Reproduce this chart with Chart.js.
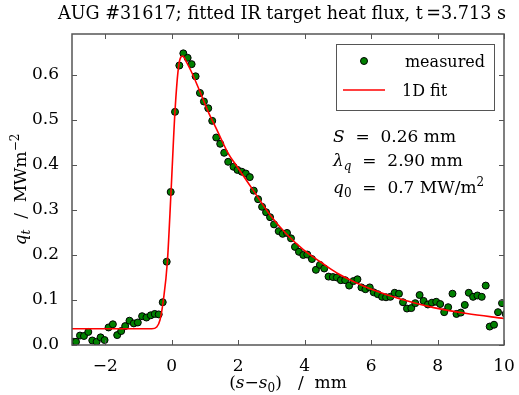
<!DOCTYPE html>
<html>
<head>
<meta charset="utf-8">
<script src="https://cdn.jsdelivr.net/npm/chart.js@4"></script>
<style>
html, body { margin: 0; padding: 0; background: #fff; }
</style>
</head>
<body>
<canvas id="heatFlux" width="519" height="395"></canvas>
<script>
// measured IR heat flux
var measuredX = [-2.96, -2.88, -2.76, -2.64, -2.51, -2.39, -2.26, -2.14, -2.02, -1.90, -1.77, -1.64, -1.52, -1.40, -1.27, -1.14, -1.02, -0.89, -0.76, -0.63, -0.51, -0.39, -0.27, -0.15, -0.03, 0.10, 0.23, 0.35, 0.48, 0.60, 0.72, 0.85, 0.97, 1.10, 1.22, 1.34, 1.46, 1.58, 1.70, 1.86, 1.98, 2.11, 2.23, 2.35, 2.47, 2.60, 2.72, 2.84, 2.96, 3.08, 3.22, 3.34, 3.47, 3.59, 3.71, 3.83, 3.96, 4.08, 4.22, 4.34, 4.46, 4.59, 4.72, 4.85, 4.97, 5.09, 5.22, 5.34, 5.47, 5.59, 5.71, 5.83, 5.96, 6.08, 6.20, 6.33, 6.45, 6.58, 6.71, 6.84, 6.96, 7.08, 7.21, 7.33, 7.46, 7.58, 7.71, 7.83, 7.96, 8.08, 8.20, 8.32, 8.45, 8.57, 8.70, 8.82, 8.94, 9.07, 9.20, 9.33, 9.45, 9.57, 9.70, 9.82, 9.94, 10.05];
var measuredY = [0.007, 0.007, 0.021, 0.020, 0.029, 0.010, 0.007, 0.017, 0.011, 0.039, 0.046, 0.022, 0.031, 0.042, 0.054, 0.048, 0.050, 0.064, 0.061, 0.066, 0.069, 0.068, 0.095, 0.185, 0.340, 0.518, 0.621, 0.648, 0.638, 0.624, 0.597, 0.560, 0.541, 0.526, 0.498, 0.461, 0.447, 0.427, 0.407, 0.396, 0.389, 0.385, 0.381, 0.373, 0.343, 0.324, 0.307, 0.295, 0.284, 0.268, 0.253, 0.247, 0.249, 0.237, 0.218, 0.207, 0.200, 0.201, 0.191, 0.167, 0.178, 0.170, 0.152, 0.151, 0.150, 0.144, 0.144, 0.132, 0.142, 0.146, 0.128, 0.124, 0.128, 0.117, 0.113, 0.107, 0.106, 0.107, 0.116, 0.114, 0.095, 0.081, 0.082, 0.093, 0.111, 0.098, 0.090, 0.094, 0.096, 0.091, 0.073, 0.084, 0.114, 0.069, 0.072, 0.089, 0.116, 0.107, 0.110, 0.107, 0.132, 0.041, 0.045, 0.073, 0.093, 0.069];

// 1D fit curve
var fitX = [-3.0, -0.6, -0.45, -0.35, -0.25, -0.13, -0.02, 0.10, 0.21, 0.33, 0.45, 0.60, 0.85, 1.10, 1.36, 1.70, 1.96, 2.46, 2.96, 3.46, 3.96, 4.47, 4.97, 5.50, 6.07, 6.88, 7.88, 8.88, 10.0];
var fitY = [0.036, 0.036, 0.040, 0.056, 0.100, 0.185, 0.340, 0.520, 0.620, 0.642, 0.628, 0.606, 0.563, 0.518, 0.478, 0.426, 0.397, 0.343, 0.289, 0.246, 0.212, 0.185, 0.160, 0.140, 0.122, 0.102, 0.083, 0.070, 0.059];

var xTicks = [-2, 0, 2, 4, 6, 8, 10];
var xTickLabels = ['\u22122', '0', '2', '4', '6', '8', '10'];
var yTicks = [0, 0.1, 0.2, 0.3, 0.4, 0.5, 0.6];
var yTickLabels = ['0.0', '0.1', '0.2', '0.3', '0.4', '0.5', '0.6'];

var serif = "'DejaVu Serif', serif";
var FS = 17;

function toPoints(xs, ys) {
    return xs.map(function (x, i) { return { x: x, y: ys[i] }; });
}

// draw a run of text pieces, each with own style and baseline shift
function drawRun(ctx, parts, x, y, align) {
    var total = 0;
    parts.forEach(function (p) {
        ctx.font = p.font;
        total += ctx.measureText(p.t).width;
    });
    var cx = align === 'center' ? x - total / 2 : x;
    ctx.textAlign = 'left';
    ctx.textBaseline = 'alphabetic';
    parts.forEach(function (p) {
        ctx.font = p.font;
        ctx.fillText(p.t, cx, y + (p.dy || 0));
        cx += ctx.measureText(p.t).width;
    });
}

var rm = FS + 'px ' + serif;
var it = 'italic ' + FS + 'px ' + serif;
var small = '12px ' + serif;
var smallIt = 'italic 12px ' + serif;
var lgd = '16px ' + serif;

var decorations = {
    id: 'decorations',
    afterDatasetsDraw: function (chart) {
        var ctx = chart.ctx;
        var a = chart.chartArea;
        var xs = chart.scales.x, ys = chart.scales.y;
        ctx.save();
        ctx.strokeStyle = '#555';
        ctx.lineWidth = 1;
        // inward ticks on all four sides
        ctx.beginPath();
        xTicks.forEach(function (v) {
            var px = Math.round(xs.getPixelForValue(v)) + 0.5;
            ctx.moveTo(px, a.bottom); ctx.lineTo(px, a.bottom - 5);
            ctx.moveTo(px, a.top); ctx.lineTo(px, a.top + 5);
        });
        yTicks.forEach(function (v) {
            var py = Math.round(ys.getPixelForValue(v)) + 0.5;
            ctx.moveTo(a.left, py); ctx.lineTo(a.left + 5, py);
            ctx.moveTo(a.right, py); ctx.lineTo(a.right - 5, py);
        });
        ctx.stroke();
        ctx.lineWidth = 1.5;
        ctx.strokeRect(a.left, a.top, a.right - a.left, a.bottom - a.top);
        ctx.restore();
    },
    afterDraw: function (chart) {
        var ctx = chart.ctx;
        var a = chart.chartArea;
        ctx.save();
        ctx.fillStyle = '#000';

        // title
        drawRun(ctx, [{ t: 'AUG #31617; fitted IR target heat flux, t\u2009=3.713 s', font: '17.6px ' + serif }], (a.left + a.right) / 2 - 6, 19, 'center');

        // x axis title
        drawRun(ctx, [
            { t: '(', font: rm }, { t: 's', font: it }, { t: '\u2212', font: rm },
            { t: 's', font: it }, { t: '0', font: small, dy: 4 }, { t: ')', font: rm },
            { t: '   /  mm', font: rm }
        ], (a.left + a.right) / 2, 388, 'center');

        // y axis title
        ctx.save();
        ctx.translate(26, (a.top + a.bottom) / 2);
        ctx.rotate(-Math.PI / 2);
        drawRun(ctx, [
            { t: 'q', font: it }, { t: 't', font: smallIt, dy: 4 },
            { t: '  /  MWm', font: rm }, { t: '\u22122', font: small, dy: -7 }
        ], 0, 0, 'center');
        ctx.restore();

        // legend box
        ctx.strokeStyle = '#555';
        ctx.lineWidth = 1;
        ctx.fillStyle = '#fff';
        ctx.fillRect(336.5, 44.5, 158, 66);
        ctx.strokeRect(336.5, 44.5, 158, 66);
        ctx.fillStyle = '#008000';
        ctx.strokeStyle = '#000';
        ctx.beginPath();
        ctx.arc(364, 61, 3.5, 0, Math.PI * 2);
        ctx.fill();
        ctx.stroke();
        ctx.strokeStyle = '#ff0000';
        ctx.lineWidth = 1.5;
        ctx.beginPath();
        ctx.moveTo(343, 90); ctx.lineTo(385, 90);
        ctx.stroke();
        ctx.fillStyle = '#000';
        ctx.font = lgd;
        ctx.textAlign = 'right';
        ctx.fillText('measured', 485, 67);
        ctx.textAlign = 'left';
        ctx.fillText('1D fit', 402, 96);

        // fit parameters
        drawRun(ctx, [{ t: 'S', font: it }, { t: '  =  0.26 mm', font: rm }], 333, 142);
        drawRun(ctx, [{ t: '\u03bb', font: it }, { t: 'q', font: smallIt, dy: 4 }, { t: '  =  2.90 mm', font: rm }], 333, 166);
        drawRun(ctx, [{ t: 'q', font: it }, { t: '0', font: small, dy: 4 }, { t: '  =  0.7 MW/m', font: rm }, { t: '2', font: small, dy: -7 }], 333, 193);
        ctx.restore();
    }
};

var ctx = document.getElementById('heatFlux').getContext('2d');
var chart = new Chart(ctx, {
    type: 'scatter',
    data: {
        datasets: [{
            label: 'measured',
            data: toPoints(measuredX, measuredY),
            backgroundColor: '#008000',
            borderColor: '#000',
            borderWidth: 1,
            pointRadius: 3.5,
            clip: 0,
            order: 1
        }, {
            label: '1D fit',
            type: 'line',
            data: toPoints(fitX, fitY),
            borderColor: '#ff0000',
            borderWidth: 1.6,
            pointRadius: 0,
            fill: false,
            cubicInterpolationMode: 'monotone',
            clip: 0,
            order: 0
        }]
    },
    options: {
        responsive: false,
        animation: false,
        layout: { padding: { top: 34, right: 15, left: 0, bottom: 0 } },
        plugins: {
            legend: { display: false },
            title: { display: false },
            tooltip: { enabled: false }
        },
        scales: {
            x: {
                type: 'linear',
                min: -3,
                max: 10,
                afterBuildTicks: function (s) { s.ticks = xTicks.map(function (v) { return { value: v }; }); },
                afterFit: function (s) { s.height = 50; },
                ticks: {
                    callback: function (v) { return xTickLabels[xTicks.indexOf(v)]; },
                    font: { family: serif, size: FS },
                    color: '#000',
                    padding: 3,
                    maxRotation: 0
                },
                grid: { display: false },
                border: { display: false }
            },
            y: {
                min: 0,
                max: 0.691,
                afterBuildTicks: function (s) { s.ticks = yTicks.map(function (v) { return { value: v }; }); },
                afterFit: function (s) { s.width = 72; },
                ticks: {
                    callback: function (v) { return yTickLabels[yTicks.indexOf(v)]; },
                    font: { family: serif, size: FS },
                    color: '#000',
                    padding: 5
                },
                grid: { display: false },
                border: { display: false }
            }
        }
    },
    plugins: [decorations]
});
</script>
</body>
</html>
